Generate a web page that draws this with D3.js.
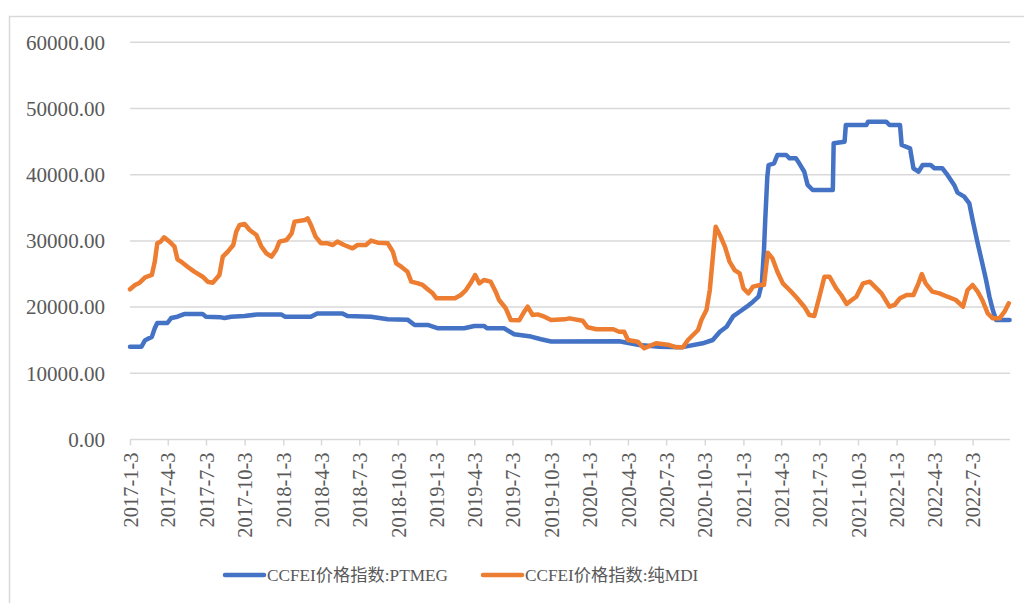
<!DOCTYPE html>
<html>
<head>
<meta charset="utf-8">
<script src="https://cdn.jsdelivr.net/npm/d3@7"></script>
<style>
  html, body { margin: 0; padding: 0; background: #fff; }
  svg { display: block; }
</style>
</head>
<body>
<div id="chart"></div>
<script>
// PTMEG index, [date, value]
const ptmeg = [
  ["2017-01-03", 14000], ["2017-01-30", 14000], ["2017-02-08", 15000], ["2017-02-24", 15500],
  ["2017-03-03", 16800], ["2017-03-09", 17600], ["2017-04-02", 17600], ["2017-04-11", 18350],
  ["2017-04-26", 18550], ["2017-05-12", 18950], ["2017-06-25", 18950], ["2017-07-03", 18550],
  ["2017-08-08", 18450], ["2017-08-16", 18350], ["2017-09-01", 18550], ["2017-10-03", 18650],
  ["2017-11-04", 18900], ["2017-12-29", 18900], ["2018-01-07", 18550], ["2018-03-10", 18550],
  ["2018-03-25", 19050], ["2018-05-24", 19050], ["2018-06-05", 18650], ["2018-07-31", 18550],
  ["2018-09-09", 18150], ["2018-10-26", 18100], ["2018-11-12", 17300], ["2018-12-13", 17300],
  ["2019-01-07", 16800], ["2019-03-10", 16800], ["2019-04-03", 17150], ["2019-04-26", 17150],
  ["2019-05-04", 16800], ["2019-06-13", 16800], ["2019-07-07", 15900], ["2019-08-16", 15550],
  ["2019-09-09", 15150], ["2019-10-03", 14800], ["2020-03-13", 14850], ["2020-04-30", 14270],
  ["2020-06-17", 14020], ["2020-08-11", 13950], ["2020-09-28", 14530], ["2020-10-22", 15030],
  ["2020-11-08", 16280], ["2020-11-24", 17040], ["2020-12-10", 18650], ["2020-12-25", 19300],
  ["2021-01-11", 20060], ["2021-01-26", 20820], ["2021-02-08", 21570], ["2021-02-16", 23590],
  ["2021-02-21", 28620], ["2021-02-24", 33150], ["2021-03-01", 39700], ["2021-03-04", 41460],
  ["2021-03-17", 41720], ["2021-03-25", 42980], ["2021-04-15", 42980], ["2021-04-23", 42470],
  ["2021-05-08", 42470], ["2021-05-16", 41720], ["2021-05-28", 40450], ["2021-06-05", 38450],
  ["2021-06-17", 37690], ["2021-08-04", 37690], ["2021-08-06", 44740], ["2021-09-01", 44990],
  ["2021-09-04", 47510], ["2021-10-23", 47510], ["2021-10-27", 48010], ["2021-12-09", 48010],
  ["2021-12-17", 47510], ["2022-01-11", 47510], ["2022-01-15", 44490], ["2022-02-04", 43990],
  ["2022-02-12", 40970], ["2022-02-24", 40450], ["2022-03-06", 41460], ["2022-03-25", 41460],
  ["2022-04-03", 40970], ["2022-04-22", 40970], ["2022-05-04", 39960], ["2022-05-20", 38450],
  ["2022-05-28", 37290], ["2022-06-13", 36680], ["2022-06-25", 35680], ["2022-07-03", 33150],
  ["2022-07-15", 29640], ["2022-07-26", 26620], ["2022-08-04", 24100], ["2022-08-12", 21570],
  ["2022-08-20", 19560], ["2022-08-28", 18050], ["2022-09-29", 18050]
];

// pure MDI index, [date, value]
const mdi = [
  ["2017-01-03", 22690], ["2017-01-15", 23340], ["2017-01-26", 23690], ["2017-02-08", 24500],
  ["2017-02-24", 24850], ["2017-03-03", 26860], ["2017-03-09", 29640], ["2017-03-17", 29890],
  ["2017-03-25", 30540], ["2017-04-07", 29890], ["2017-04-19", 29130], ["2017-04-26", 27220],
  ["2017-05-08", 26710], ["2017-05-20", 26100], ["2017-06-05", 25350], ["2017-06-25", 24590],
  ["2017-07-07", 23840], ["2017-07-19", 23690], ["2017-08-04", 24850], ["2017-08-12", 27620],
  ["2017-08-24", 28370], ["2017-09-06", 29380], ["2017-09-13", 31390], ["2017-09-21", 32400],
  ["2017-10-03", 32550], ["2017-10-15", 31650], ["2017-10-31", 30890], ["2017-11-12", 29130],
  ["2017-11-24", 28130], ["2017-12-06", 27620], ["2017-12-17", 28620], ["2017-12-25", 29890],
  ["2018-01-11", 30140], ["2018-01-23", 31150], ["2018-01-30", 32910], ["2018-02-24", 33160],
  ["2018-03-02", 33410], ["2018-03-10", 32400], ["2018-03-21", 30640], ["2018-04-03", 29640],
  ["2018-04-19", 29640], ["2018-05-01", 29380], ["2018-05-12", 29890], ["2018-05-28", 29380],
  ["2018-06-17", 28880], ["2018-06-29", 29380], ["2018-07-19", 29380], ["2018-07-31", 30040],
  ["2018-08-16", 29730], ["2018-09-09", 29640], ["2018-09-21", 28370], ["2018-09-29", 26620],
  ["2018-10-11", 26100], ["2018-10-26", 25350], ["2018-11-04", 23840], ["2018-11-20", 23590],
  ["2018-12-01", 23340], ["2018-12-13", 22690], ["2018-12-25", 22080], ["2019-01-03", 21330],
  ["2019-02-16", 21330], ["2019-03-02", 21830], ["2019-03-13", 22480], ["2019-03-25", 23590],
  ["2019-04-05", 24850], ["2019-04-15", 23590], ["2019-04-26", 24100], ["2019-05-12", 23840],
  ["2019-05-24", 22330], ["2019-06-01", 21070], ["2019-06-17", 19820], ["2019-06-29", 18050],
  ["2019-07-19", 18000], ["2019-07-31", 19300], ["2019-08-08", 20060], ["2019-08-20", 18810],
  ["2019-09-01", 18900], ["2019-09-17", 18550], ["2019-10-03", 18050], ["2019-11-04", 18150],
  ["2019-11-16", 18300], ["2019-12-17", 17950], ["2019-12-29", 16950], ["2020-01-19", 16650],
  ["2020-02-28", 16650], ["2020-03-13", 16280], ["2020-03-25", 16280], ["2020-04-03", 15030],
  ["2020-04-26", 14770], ["2020-05-12", 13780], ["2020-05-24", 14120], ["2020-06-09", 14530],
  ["2020-07-11", 14270], ["2020-07-27", 13930], ["2020-08-12", 13930], ["2020-08-24", 15030],
  ["2020-09-05", 15790], ["2020-09-17", 16540], ["2020-09-25", 18050], ["2020-10-07", 19560],
  ["2020-10-15", 22580], ["2020-10-23", 28130], ["2020-10-29", 32150], ["2020-11-08", 30890],
  ["2020-11-20", 29130], ["2020-12-01", 26860], ["2020-12-13", 25600], ["2020-12-25", 25110],
  ["2021-01-03", 22840], ["2021-01-15", 22080], ["2021-01-26", 23090], ["2021-02-12", 23340],
  ["2021-02-21", 23340], ["2021-03-02", 28220], ["2021-03-13", 27370], ["2021-03-25", 25350],
  ["2021-04-07", 23590], ["2021-04-23", 22580], ["2021-05-08", 21570], ["2021-05-28", 20060],
  ["2021-06-09", 18810], ["2021-06-21", 18650], ["2021-07-03", 21570], ["2021-07-15", 24590],
  ["2021-07-27", 24590], ["2021-08-12", 22840], ["2021-08-24", 21830], ["2021-09-06", 20470],
  ["2021-09-18", 21070], ["2021-09-29", 21570], ["2021-10-15", 23590], ["2021-10-31", 23840],
  ["2021-11-12", 23090], ["2021-11-28", 22080], ["2021-12-17", 20060], ["2021-12-29", 20320],
  ["2022-01-11", 21330], ["2022-01-27", 21830], ["2022-02-12", 21830], ["2022-02-24", 23590],
  ["2022-03-04", 25000], ["2022-03-13", 23590], ["2022-03-29", 22330], ["2022-04-15", 22080],
  ["2022-05-04", 21570], ["2022-05-24", 21070], ["2022-06-10", 20060], ["2022-06-21", 22580],
  ["2022-07-03", 23340], ["2022-07-15", 22330], ["2022-07-26", 21070], ["2022-08-08", 19060],
  ["2022-08-20", 18300], ["2022-09-05", 18300], ["2022-09-17", 19300], ["2022-09-27", 20570]
];

const xTickLabels = [
  "2017-1-3", "2017-4-3", "2017-7-3", "2017-10-3",
  "2018-1-3", "2018-4-3", "2018-7-3", "2018-10-3",
  "2019-1-3", "2019-4-3", "2019-7-3", "2019-10-3",
  "2020-1-3", "2020-4-3", "2020-7-3", "2020-10-3",
  "2021-1-3", "2021-4-3", "2021-7-3", "2021-10-3",
  "2022-1-3", "2022-4-3", "2022-7-3"
];
const yTicks = [0, 10000, 20000, 30000, 40000, 50000, 60000];

const seriesNames = ["CCFEI价格指数:PTMEG", "CCFEI价格指数:纯MDI"];
const seriesColors = ["#4472C4", "#ED7D31"];

const width = 1024, height = 603;
const plot = { left: 130, right: 1010, top: 42.3, bottom: 439.5 };
const fontFamily = "'Times New Roman', 'Liberation Serif', Tinos, 'DejaVu Serif', 'Noto Serif', 'Noto Sans CJK SC', serif";
const textColor = "#595959";
const gridColor = "#d9d9d9";

const parseDate = d3.utcParse("%Y-%m-%d");
const parseTick = d3.utcParse("%Y-%-m-%-d");

// scale a text selection's font so that one sample label matches a target width
function fitFont(sel, sampleText, targetWidth) {
  let measured = 0;
  sel.each(function () {
    if (this.textContent === sampleText) measured = this.getComputedTextLength();
  });
  if (measured > 0) {
    const fs = parseFloat(sel.style("font-size"));
    sel.style("font-size", (fs * targetWidth / measured).toFixed(2) + "px");
  }
}

const svg = d3.select("#chart")
  .append("svg")
  .attr("width", width)
  .attr("height", height)
  .style("font-family", fontFamily);

svg.append("rect")
  .attr("width", width)
  .attr("height", height)
  .attr("fill", "#fff");

// chart area border (cropped at right and bottom)
svg.append("rect")
  .attr("x", 9.5)
  .attr("y", 16.5)
  .attr("width", 1040)
  .attr("height", 620)
  .attr("fill", "none")
  .attr("stroke", gridColor)
  .attr("stroke-width", 1.5);

const x = d3.scaleUtc()
  .domain([parseDate("2017-01-03"), parseDate("2022-09-30")])
  .range([plot.left, plot.right]);

const y = d3.scaleLinear()
  .domain([0, 60000])
  .range([plot.bottom, plot.top]);

// gridlines
svg.append("g")
  .selectAll("line")
  .data(yTicks.filter(d => d > 0))
  .enter()
  .append("line")
  .attr("x1", plot.left)
  .attr("x2", plot.right)
  .attr("y1", d => y(d))
  .attr("y2", d => y(d))
  .attr("stroke", gridColor)
  .attr("stroke-width", 1.5);

// y labels
const yLabels = svg.append("g")
  .selectAll("text")
  .data(yTicks)
  .enter()
  .append("text")
  .attr("x", 105)
  .attr("y", d => y(d))
  .attr("dy", "0.35em")
  .attr("text-anchor", "end")
  .attr("fill", textColor)
  .style("font-size", "18px")
  .text(d => d3.format(".2f")(d));
fitFont(yLabels, "60000.00", 79);

// x axis
const xAxis = d3.axisBottom(x)
  .tickValues(xTickLabels.map(parseTick))
  .tickFormat((d, i) => xTickLabels[i])
  .tickSizeInner(6)
  .tickSizeOuter(0);

const gx = svg.append("g")
  .attr("transform", `translate(0,${plot.bottom})`)
  .call(xAxis)
  .attr("font-family", null)
  .attr("font-size", null);

gx.select(".domain")
  .attr("stroke", gridColor)
  .attr("stroke-width", 1.5)
  .attr("d", `M${plot.left},0H${plot.right}`);
gx.selectAll(".tick line")
  .attr("stroke", gridColor)
  .attr("stroke-width", 1.5);
const xLabels = gx.selectAll(".tick text")
  .attr("fill", textColor)
  .style("font-size", "18px")
  .attr("text-anchor", "end")
  .attr("transform", "rotate(-90)")
  .attr("x", -13)
  .attr("y", 0)
  .attr("dy", "0.35em");
fitFont(xLabels, "2017-1-3", 75);

// lines
const line = d3.line()
  .x(d => x(parseDate(d[0])))
  .y(d => y(d[1]));

[ptmeg, mdi].forEach((data, i) => {
  svg.append("path")
    .datum(data)
    .attr("fill", "none")
    .attr("stroke", seriesColors[i])
    .attr("stroke-width", 4.5)
    .attr("stroke-linejoin", "round")
    .attr("stroke-linecap", "round")
    .attr("d", line);
});

// legend
const legendItems = [
  { x: 225, name: seriesNames[0], color: seriesColors[0] },
  { x: 483, name: seriesNames[1], color: seriesColors[1] }
];
const legend = svg.append("g")
  .selectAll("g")
  .data(legendItems)
  .enter()
  .append("g")
  .attr("transform", d => `translate(${d.x},575)`);

legend.append("line")
  .attr("x1", 0)
  .attr("x2", 39)
  .attr("stroke", d => d.color)
  .attr("stroke-width", 4.5)
  .attr("stroke-linecap", "round");

const legendText = legend.append("text")
  .attr("x", 42)
  .attr("dy", "0.35em")
  .attr("fill", textColor)
  .style("font-size", "18px")
  .text(d => d.name);
fitFont(legendText, seriesNames[0], 181);
</script>
</body>
</html>
